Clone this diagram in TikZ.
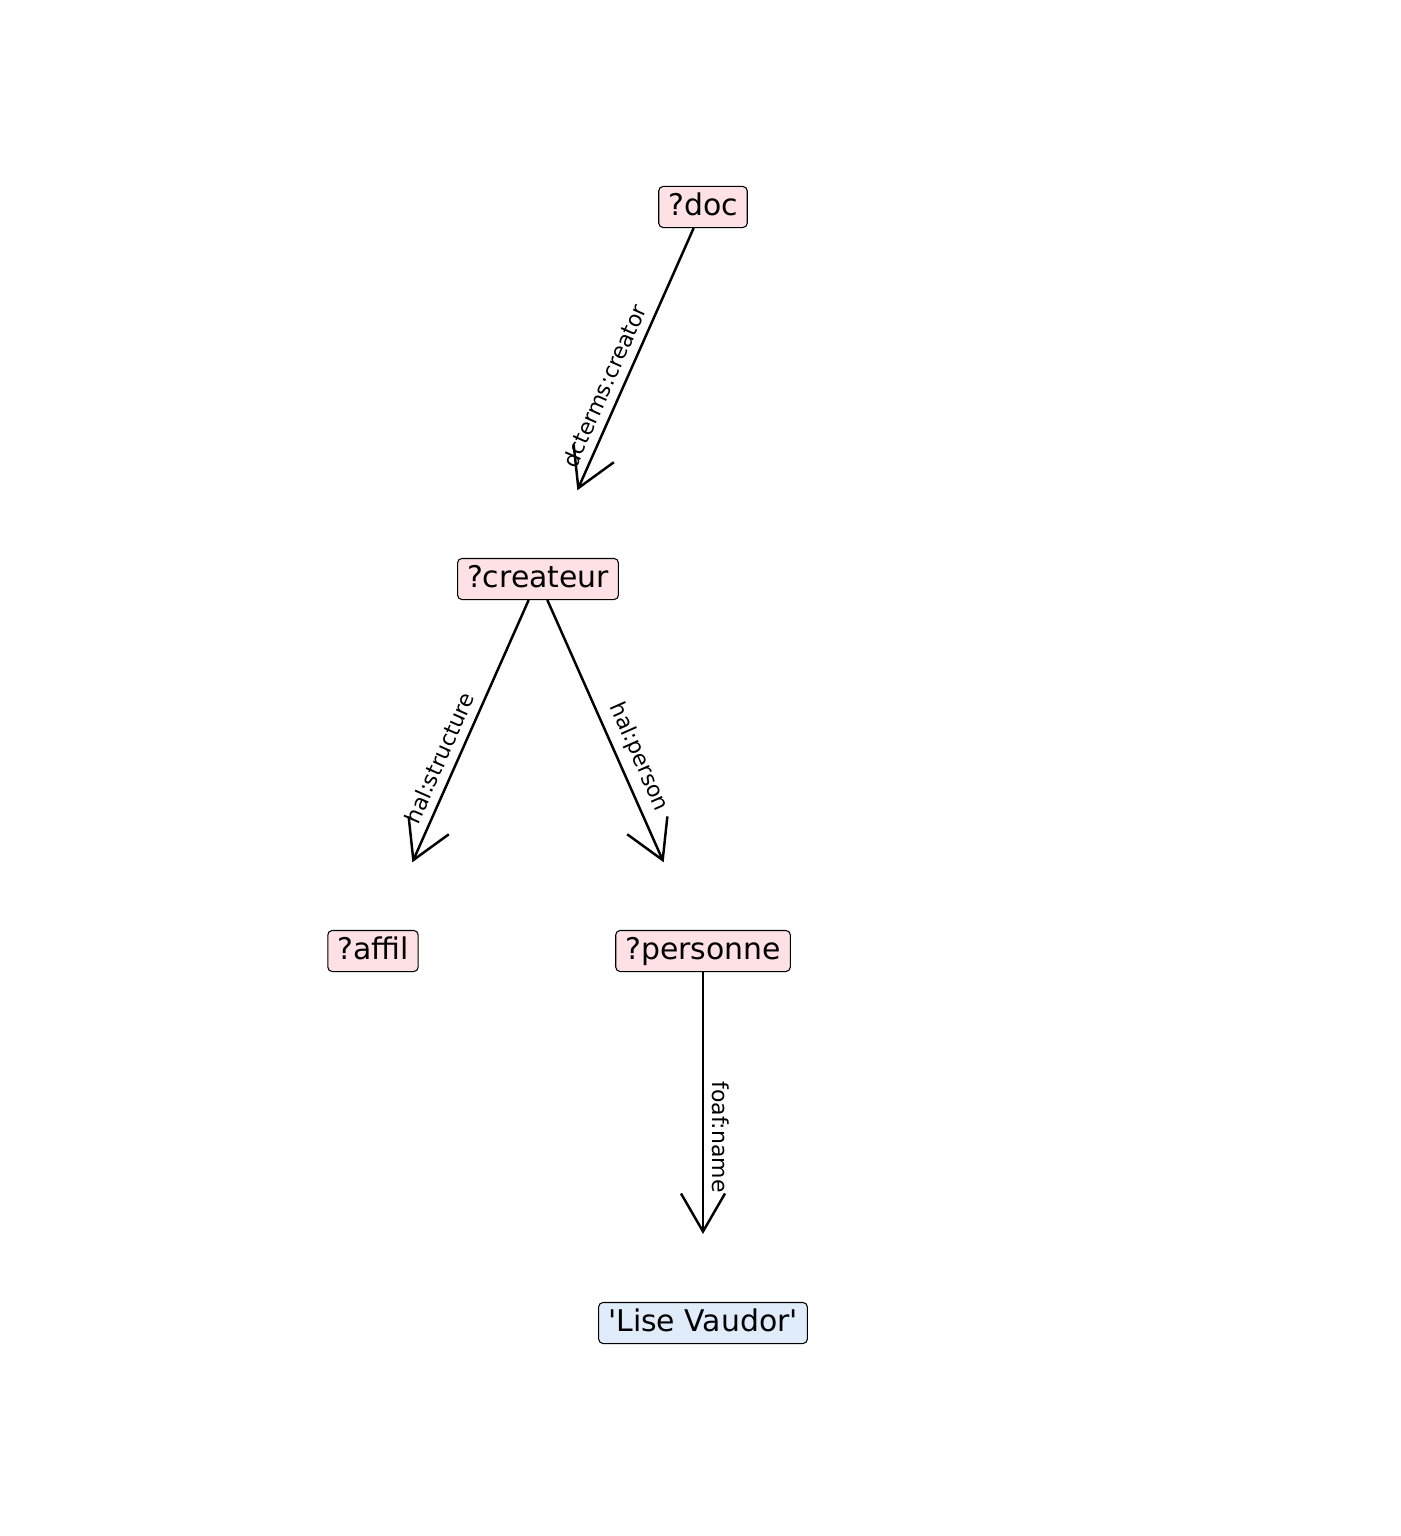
\documentclass[tikz,border=0pt]{standalone}
\usepackage{fontspec}
\setmainfont{DejaVu Sans}
\usepackage{tikz}
\usetikzlibrary{arrows.meta,positioning}
\definecolor{varPink}{RGB}{254, 225, 228}
\definecolor{litBlue}{RGB}{225, 236, 250}

\begin{document}
\begin{tikzpicture}[
        node distance=7.44cm and 3.3cm, on grid,
        var/.style={rectangle, draw=black, fill=varPink, rounded corners=2.5pt, line width=0.6pt, minimum height=0.8cm, inner xsep=0.19cm, text height=13pt, text depth=3.7pt, font=\fontsize{17}{20}\selectfont},
        lit/.style={var, fill=litBlue},
        link/.style={-{Straight Barb[length=0.76cm, width=0.88cm, line join=miter]}, line width=1.4pt, shorten >=1.48cm},
        prop/.style={sloped, above, midway, inner sep=4.5pt, font=\fontsize{12.5}{15}\selectfont},
    ]
        \useasboundingbox (0,0) rectangle (28,-30.72);

        % Query pattern nodes
        \node[var] (doc) at (14.06,-4.14) {?doc};
        \node[var, below left=of doc] (createur) {?createur};
        \node[var, below left=of createur] (affil) {?affil};
        \node[var, below right=of createur] (personne) {?personne};
        \node[lit, below=of personne] (lise) {\textquotesingle Lise Vaudor\textquotesingle};

        % Properties
        \draw[link] (doc) -- node[prop] {dcterms:creator} (createur);
        \draw[link] (createur) -- node[prop] {hal:structure} (affil);
        \draw[link] (createur) -- node[prop] {hal:person} (personne);
        \draw[link, shorten >=1.36cm] (personne) -- node[prop] {foaf:name} (lise);

    \end{tikzpicture}
\end{document}
